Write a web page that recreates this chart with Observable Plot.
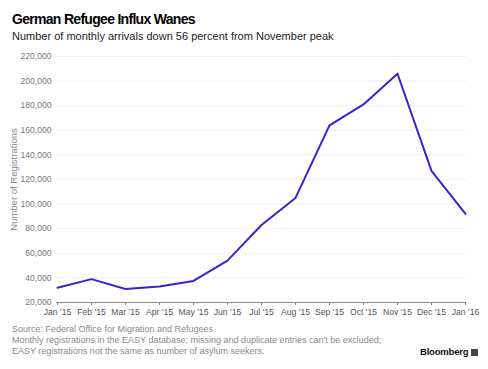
<!DOCTYPE html>
<html><head><meta charset="utf-8">
<script src="https://cdn.jsdelivr.net/npm/d3@7"></script>
<script src="https://cdn.jsdelivr.net/npm/@observablehq/plot@0.6"></script>
<style>
body{margin:0;background:#fff;font-family:"Liberation Sans",Arial,sans-serif;width:488px;height:369px;position:relative;overflow:hidden}
#title{position:absolute;left:12px;top:11px;font-size:14px;font-weight:bold;letter-spacing:-0.7px;color:#000}
#sub{position:absolute;left:12px;top:30px;font-size:11px;color:#222}
#chart{position:absolute;left:0;top:45px}
#foot{position:absolute;left:12px;top:324px;font-size:9px;line-height:11px;color:#8a8a8a}
#logo{position:absolute;left:420px;top:346px;font-size:9.5px;font-weight:bold;color:#111;letter-spacing:-0.2px}
#logo span{display:inline-block;width:7px;height:7px;background:#444;margin-left:3px;vertical-align:-0.5px}
</style></head><body>
<div id="title">German Refugee Influx Wanes</div>
<div id="sub">Number of monthly arrivals down 56 percent from November peak</div>
<div id="chart"></div>
<div id="foot">Source: Federal Office for Migration and Refugees<br>Monthly registrations in the EASY database; missing and duplicate entries can't be excluded;<br>EASY registrations not the same as number of asylum seekers.</div>
<div id="logo">Bloomberg<span></span></div>
<script>
const months = ["Jan '15","Feb '15","Mar '15","Apr '15","May '15","Jun '15","Jul '15","Aug '15","Sep '15","Oct '15","Nov '15","Dec '15","Jan '16"];
const registrations = [32000,39000,31000,33000,37500,54000,83000,105000,164000,181000,206000,127000,92000];
const yTicks = [20000,40000,60000,80000,100000,120000,140000,160000,180000,200000,220000];
const data = months.map((m,i)=>({month:m, value:registrations[i]}));
const fmt = d3.format(",");
const chart = Plot.plot({
  width:488, height:275,
  marginTop:11, marginBottom:18, marginLeft:56, marginRight:22,
  style:{fontFamily:"Liberation Sans, Arial, sans-serif", fontSize:"8.6px", color:"#666", background:"transparent"},
  x:{type:"point", domain:months, padding:0},
  y:{domain:[20000,220000]},
  marks:[
    Plot.gridY(yTicks,{stroke:"#f0f0f0", strokeOpacity:1}),
    Plot.axisY(yTicks,{tickSize:0, tickPadding:5, tickFormat:fmt, label:null, fill:"#777"}),
    Plot.text(["Number of Registrations"],{frameAnchor:"left", textAnchor:"middle", dx:-43, rotate:-90, fill:"#888", fontSize:9.5}),
    Plot.axisX({tickSize:3, tickPadding:3, label:null, fill:"#555", stroke:"#888"}),
    Plot.ruleY([20000],{stroke:"#888"}),
    Plot.line(data,{x:"month", y:"value", stroke:"#3b22d0", strokeWidth:2})
  ]
});
document.getElementById("chart").appendChild(chart);
</script>
</body></html>
